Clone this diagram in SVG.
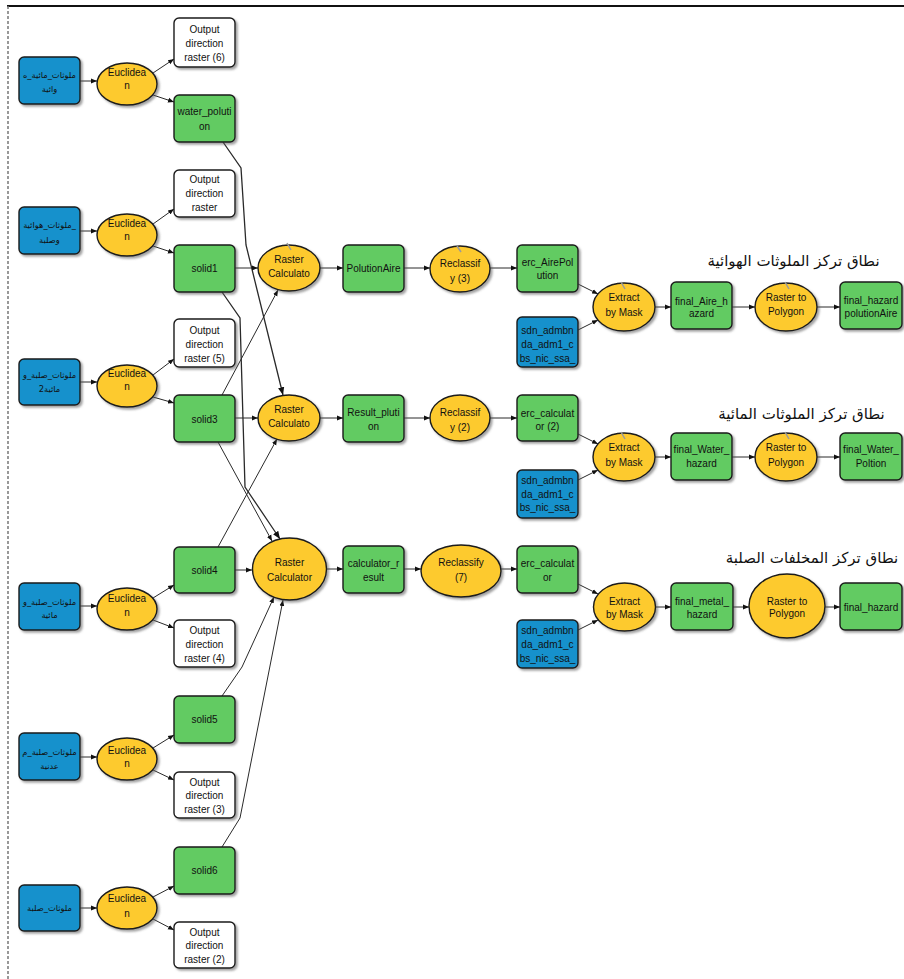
<svg xmlns="http://www.w3.org/2000/svg" width="904" height="979" viewBox="0 0 904 979">
<style>
  .bg{fill:#ffffff}
  .blue{fill:#1591cc;stroke:#1a1a1a;stroke-width:1.4}
  .green{fill:#62cb62;stroke:#1a1a1a;stroke-width:1.4}
  .white{fill:#ffffff;stroke:#1a1a1a;stroke-width:1.4}
  .tool{fill:#fdca2f;stroke:#1a1a1a;stroke-width:1.4}
  .t{font-family:"Liberation Sans","DejaVu Sans",Arial,sans-serif;font-size:10px;fill:#111;text-anchor:middle}
  .ar{font-family:"DejaVu Sans","Noto Sans",sans-serif;font-size:8.3px;fill:#111;text-anchor:middle}
  .title{font-family:"DejaVu Sans","Noto Sans",sans-serif;font-size:15px;fill:#111;text-anchor:middle}
  .c{fill:none;stroke:#2a2a2a;stroke-width:1;marker-end:url(#ah)}
  .tick{fill:none;stroke:#9a9a9a;stroke-width:1.5}
  .frame{stroke:#111;stroke-width:2}
  .dash{stroke:#777;stroke-width:1.5;stroke-dasharray:3 2}
</style>
<defs>
  <marker id="ah" viewBox="0 0 10 10" refX="10" refY="5" markerWidth="6" markerHeight="6" orient="auto">
    <path d="M0,1 L10,5 L0,9 z" fill="#111"/>
  </marker>
  <filter id="sh" x="-20%" y="-20%" width="140%" height="140%">
    <feDropShadow dx="2" dy="2" stdDeviation="1.2" flood-color="#555" flood-opacity="0.55"/>
  </filter>
</defs>
<rect class="bg" x="0" y="0" width="904" height="979"/>
<line class="frame" x1="7" y1="6" x2="904" y2="6"/>
<line class="dash" x1="8" y1="6" x2="8" y2="979"/>

<g id="connectors">
  <path class="c" d="M80,81 L97,81"/>
  <path class="c" d="M80,231 L97,231"/>
  <path class="c" d="M80,382 L97,382"/>
  <path class="c" d="M80,606 L97,606"/>
  <path class="c" d="M80,757 L97,757"/>
  <path class="c" d="M80,908 L97,908"/>
  <path class="c" d="M153,73 L174,59"/>
  <path class="c" d="M153,95 L174,102"/>
  <path class="c" d="M153,224 L174,209"/>
  <path class="c" d="M153,246 L174,253"/>
  <path class="c" d="M153,375 L174,359"/>
  <path class="c" d="M153,397 L174,403"/>
  <path class="c" d="M153,598 L174,585"/>
  <path class="c" d="M153,620 L174,628"/>
  <path class="c" d="M153,748 L174,735"/>
  <path class="c" d="M153,770 L174,780"/>
  <path class="c" d="M153,897 L174,886"/>
  <path class="c" d="M153,919 L174,930"/>
  <path class="c" style="stroke-width:1.3" d="M223,142 L241,168 L246,245 L283,395"/>
  <path class="c" style="stroke-width:1.3" d="M222,292 L240,318 L245,487 L280,539"/>
  <path class="c" d="M218,442 L272,541"/>
  <path class="c" d="M222,395 L278,290"/>
  <path class="c" d="M218,547 L277,439"/>
  <path class="c" d="M222,696 L242,667 L274,597"/>
  <path class="c" d="M222,847 L240,818 L283,600"/>
  <path class="c" d="M235,268 L258,268"/>
  <path class="c" d="M235,418 L258,418"/>
  <path class="c" d="M235,570 L252,570"/>
  <path class="c" d="M320,268 L343,268"/>
  <path class="c" d="M320,418 L343,418"/>
  <path class="c" d="M327,569 L343,569"/>
  <path class="c" d="M404,268 L430,268"/>
  <path class="c" d="M404,418 L430,418"/>
  <path class="c" d="M404,569 L421,569"/>
  <path class="c" d="M490,268 L517,268"/>
  <path class="c" d="M490,418 L517,418"/>
  <path class="c" d="M501,569 L517,569"/>
  <path class="c" d="M578,284 L598,294"/>
  <path class="c" d="M578,330 L598,320"/>
  <path class="c" d="M578,434 L598,444"/>
  <path class="c" d="M578,480 L598,470"/>
  <path class="c" d="M578,584 L598,594"/>
  <path class="c" d="M578,630 L598,620"/>
  <path class="c" d="M655,307 L671,307"/>
  <path class="c" d="M655,457 L671,457"/>
  <path class="c" d="M655,607 L671,607"/>
  <path class="c" d="M732,307 L755,307"/>
  <path class="c" d="M732,457 L755,457"/>
  <path class="c" d="M733,607 L749,607"/>
  <path class="c" d="M817,307 L840,307"/>
  <path class="c" d="M817,457 L840,457"/>
  <path class="c" d="M825,607 L840,607"/>
</g>

<!-- Input blue nodes -->
<g id="in1"><rect class="blue" filter="url(#sh)" x="19" y="57" width="61" height="47" rx="5"/><text class="ar" x="49.5" y="78">ملوثات_مائية_ه</text><text class="ar" x="49.5" y="92">وائية</text></g>
<g id="in2"><rect class="blue" filter="url(#sh)" x="19" y="207" width="61" height="47" rx="5"/><text class="ar" x="49.5" y="228">ملوثات_هوائية_</text><text class="ar" x="49.5" y="243">وصلبة</text></g>
<g id="in3"><rect class="blue" filter="url(#sh)" x="19" y="359" width="61" height="46" rx="5"/><text class="ar" x="49.5" y="378">ملوثات_صلبة_و</text><text class="ar" x="49.5" y="392">مائية2</text></g>
<g id="in4"><rect class="blue" filter="url(#sh)" x="19" y="583" width="61" height="47" rx="5"/><text class="ar" x="49.5" y="605">ملوثات_صلبة_و</text><text class="ar" x="49.5" y="618">مائية</text></g>
<g id="in5"><rect class="blue" filter="url(#sh)" x="19" y="733" width="61" height="47" rx="5"/><text class="ar" x="49.5" y="755">ملوثات_صلبة_م</text><text class="ar" x="49.5" y="769">عدنية</text></g>
<g id="in6"><rect class="blue" filter="url(#sh)" x="19" y="885" width="61" height="46" rx="5"/><text class="ar" x="49.5" y="911">ملوثات_صلبة</text></g>

<!-- Euclidean tools -->
<g id="euc1"><ellipse class="tool" filter="url(#sh)" cx="127" cy="84" rx="30" ry="21"/><text class="t" x="127" y="76">Euclidea</text><text class="t" x="127" y="89">n</text></g>
<g id="euc2"><ellipse class="tool" filter="url(#sh)" cx="127" cy="235" rx="30" ry="21"/><text class="t" x="127" y="227">Euclidea</text><text class="t" x="127" y="240">n</text></g>
<g id="euc3"><ellipse class="tool" filter="url(#sh)" cx="127" cy="386" rx="30" ry="21"/><text class="t" x="127" y="377">Euclidea</text><text class="t" x="127" y="390">n</text></g>
<g id="euc4"><ellipse class="tool" filter="url(#sh)" cx="127" cy="609" rx="30" ry="21"/><text class="t" x="127" y="602">Euclidea</text><text class="t" x="127" y="616">n</text></g>
<g id="euc5"><ellipse class="tool" filter="url(#sh)" cx="127" cy="759" rx="30" ry="21"/><text class="t" x="127" y="754">Euclidea</text><text class="t" x="127" y="767">n</text></g>
<g id="euc6"><ellipse class="tool" filter="url(#sh)" cx="127" cy="908" rx="30" ry="21"/><text class="t" x="127" y="902">Euclidea</text><text class="t" x="127" y="917">n</text></g>

<!-- Euclidean outputs -->
<g id="odr6"><rect class="white" filter="url(#sh)" x="174" y="18" width="61" height="49" rx="5"/><text class="t" x="204.5" y="33">Output</text><text class="t" x="204.5" y="47">direction</text><text class="t" x="204.5" y="61">raster (6)</text></g>
<g id="water"><rect class="green" filter="url(#sh)" x="174" y="95" width="61" height="47" rx="5"/><text class="t" x="204.5" y="115">water_poluti</text><text class="t" x="204.5" y="130">on</text></g>
<g id="odr"><rect class="white" filter="url(#sh)" x="174" y="170" width="61" height="47" rx="5"/><text class="t" x="204.5" y="183">Output</text><text class="t" x="204.5" y="197">direction</text><text class="t" x="204.5" y="211">raster</text></g>
<g id="solid1"><rect class="green" filter="url(#sh)" x="174" y="245" width="61" height="47" rx="5"/><text class="t" x="204.5" y="272">solid1</text></g>
<g id="odr5"><rect class="white" filter="url(#sh)" x="174" y="319" width="61" height="48" rx="5"/><text class="t" x="204.5" y="334">Output</text><text class="t" x="204.5" y="348">direction</text><text class="t" x="204.5" y="362">raster (5)</text></g>
<g id="solid3"><rect class="green" filter="url(#sh)" x="174" y="395" width="61" height="47" rx="5"/><text class="t" x="204.5" y="423">solid3</text></g>
<g id="solid4"><rect class="green" filter="url(#sh)" x="174" y="547" width="61" height="46" rx="5"/><text class="t" x="204.5" y="574">solid4</text></g>
<g id="odr4"><rect class="white" filter="url(#sh)" x="174" y="620" width="61" height="47" rx="5"/><text class="t" x="204.5" y="634">Output</text><text class="t" x="204.5" y="648">direction</text><text class="t" x="204.5" y="662">raster (4)</text></g>
<g id="solid5"><rect class="green" filter="url(#sh)" x="174" y="696" width="61" height="47" rx="5"/><text class="t" x="204.5" y="723">solid5</text></g>
<g id="odr3"><rect class="white" filter="url(#sh)" x="174" y="772" width="61" height="46" rx="5"/><text class="t" x="204.5" y="786">Output</text><text class="t" x="204.5" y="799">direction</text><text class="t" x="204.5" y="813">raster (3)</text></g>
<g id="solid6"><rect class="green" filter="url(#sh)" x="174" y="847" width="61" height="47" rx="5"/><text class="t" x="204.5" y="874">solid6</text></g>
<g id="odr2"><rect class="white" filter="url(#sh)" x="174" y="922" width="61" height="46" rx="5"/><text class="t" x="204.5" y="936">Output</text><text class="t" x="204.5" y="949">direction</text><text class="t" x="204.5" y="963">raster (2)</text></g>

<!-- Raster calculators -->
<g id="rc1"><ellipse class="tool" filter="url(#sh)" cx="289" cy="268" rx="31" ry="23"/><path class="tick" d="M287,243 L291,250"/><text class="t" x="289" y="263">Raster</text><text class="t" x="289" y="277">Calculato</text></g>
<g id="rc2"><ellipse class="tool" filter="url(#sh)" cx="289" cy="418" rx="31" ry="23"/><text class="t" x="289" y="413">Raster</text><text class="t" x="289" y="427">Calculato</text></g>
<g id="rc3"><ellipse class="tool" filter="url(#sh)" cx="289.5" cy="569" rx="37" ry="31"/><text class="t" x="289.5" y="566">Raster</text><text class="t" x="289.5" y="581">Calculator</text></g>

<g id="polutionaire"><rect class="green" filter="url(#sh)" x="343" y="245" width="61" height="47" rx="5"/><text class="t" x="373.5" y="272">PolutionAire</text></g>
<g id="resultplution"><rect class="green" filter="url(#sh)" x="343" y="395" width="61" height="47" rx="5"/><text class="t" x="373.5" y="416">Result_pluti</text><text class="t" x="373.5" y="430">on</text></g>
<g id="calcresult"><rect class="green" filter="url(#sh)" x="343" y="546" width="61" height="47" rx="5"/><text class="t" x="373.5" y="567">calculator_r</text><text class="t" x="373.5" y="581">esult</text></g>

<g id="recl3"><ellipse class="tool" filter="url(#sh)" cx="460" cy="269" rx="30" ry="23"/><path class="tick" d="M457,246 L461,252"/><text class="t" x="460" y="267">Reclassif</text><text class="t" x="460" y="282">y (3)</text></g>
<g id="recl2"><ellipse class="tool" filter="url(#sh)" cx="460" cy="418" rx="30" ry="23"/><text class="t" x="460" y="416">Reclassif</text><text class="t" x="460" y="431">y (2)</text></g>
<g id="recl7"><ellipse class="tool" filter="url(#sh)" cx="461" cy="571" rx="40" ry="26"/><text class="t" x="461" y="566">Reclassify</text><text class="t" x="461" y="581">(7)</text></g>

<g id="ercaire"><rect class="green" filter="url(#sh)" x="517" y="245" width="61" height="47" rx="5"/><text class="t" x="547.5" y="266">erc_AirePol</text><text class="t" x="547.5" y="279">ution</text></g>
<g id="erccalc2"><rect class="green" filter="url(#sh)" x="517" y="395" width="61" height="46" rx="5"/><text class="t" x="547.5" y="417">erc_calculat</text><text class="t" x="547.5" y="430">or (2)</text></g>
<g id="erccalc"><rect class="green" filter="url(#sh)" x="517" y="546" width="61" height="47" rx="5"/><text class="t" x="547.5" y="567">erc_calculat</text><text class="t" x="547.5" y="581">or</text></g>

<g id="sdn1"><rect class="blue" filter="url(#sh)" x="517" y="317" width="61" height="50" rx="5"/><text class="t" x="547.5" y="334">sdn_admbn</text><text class="t" x="547.5" y="348">da_adm1_c</text><text class="t" x="547.5" y="362">bs_nic_ssa_</text></g>
<g id="sdn2"><rect class="blue" filter="url(#sh)" x="517" y="470" width="61" height="48" rx="5"/><text class="t" x="547.5" y="484">sdn_admbn</text><text class="t" x="547.5" y="498">da_adm1_c</text><text class="t" x="547.5" y="511">bs_nic_ssa_</text></g>
<g id="sdn3"><rect class="blue" filter="url(#sh)" x="517" y="620" width="61" height="48" rx="5"/><text class="t" x="547.5" y="634">sdn_admbn</text><text class="t" x="547.5" y="648">da_adm1_c</text><text class="t" x="547.5" y="662">bs_nic_ssa_</text></g>

<g id="extract1"><ellipse class="tool" filter="url(#sh)" cx="624" cy="307" rx="31" ry="24"/><path class="tick" d="M621,282 L625,289"/><text class="t" x="624" y="301">Extract</text><text class="t" x="624" y="316">by Mask</text></g>
<g id="extract2"><ellipse class="tool" filter="url(#sh)" cx="624" cy="457" rx="31" ry="24"/><path class="tick" d="M621,432 L625,439"/><text class="t" x="624" y="451">Extract</text><text class="t" x="624" y="466">by Mask</text></g>
<g id="extract3"><ellipse class="tool" filter="url(#sh)" cx="624.5" cy="607" rx="31" ry="24"/><text class="t" x="624.5" y="605">Extract</text><text class="t" x="624.5" y="618">by Mask</text></g>

<g id="finalaire"><rect class="green" filter="url(#sh)" x="671" y="282" width="61" height="47" rx="5"/><text class="t" x="701.5" y="305">final_Aire_h</text><text class="t" x="701.5" y="317">azard</text></g>
<g id="finalwater"><rect class="green" filter="url(#sh)" x="671" y="433" width="61" height="47" rx="5"/><text class="t" x="701.5" y="453">final_Water_</text><text class="t" x="701.5" y="467">hazard</text></g>
<g id="finalmetal"><rect class="green" filter="url(#sh)" x="671" y="583" width="62" height="47" rx="5"/><text class="t" x="702" y="605">final_metal_</text><text class="t" x="702" y="618">hazard</text></g>

<g id="rtp1"><ellipse class="tool" filter="url(#sh)" cx="786" cy="307" rx="31" ry="24"/><path class="tick" d="M785,282 L789,289"/><text class="t" x="786" y="301">Raster to</text><text class="t" x="786" y="315">Polygon</text></g>
<g id="rtp2"><ellipse class="tool" filter="url(#sh)" cx="786" cy="457" rx="31" ry="24"/><path class="tick" d="M785,432 L789,439"/><text class="t" x="786" y="451">Raster to</text><text class="t" x="786" y="466">Polygon</text></g>
<g id="rtp3"><ellipse class="tool" filter="url(#sh)" cx="787" cy="606" rx="38" ry="32"/><text class="t" x="787" y="605">Raster to</text><text class="t" x="787" y="617">Polygon</text></g>

<g id="finalhazardaire"><rect class="green" filter="url(#sh)" x="840" y="282" width="62" height="47" rx="5"/><text class="t" x="871" y="304">final_hazard</text><text class="t" x="871" y="317">polutionAire</text></g>
<g id="finalwaterpol"><rect class="green" filter="url(#sh)" x="840" y="433" width="62" height="47" rx="5"/><text class="t" x="871" y="453">final_Water_</text><text class="t" x="871" y="467">Poltion</text></g>
<g id="finalhazard"><rect class="green" filter="url(#sh)" x="840" y="583" width="62" height="47" rx="5"/><text class="t" x="871" y="611">final_hazard</text></g>

<g id="titles">
  <text class="title" x="793.5" y="266">نطاق تركز الملوثات الهوائية</text>
  <text class="title" x="801.5" y="419">نطاق تركز الملوثات المائية</text>
  <text class="title" x="812" y="563">نطاق تركز المخلفات الصلبة</text>
</g>
</svg>
